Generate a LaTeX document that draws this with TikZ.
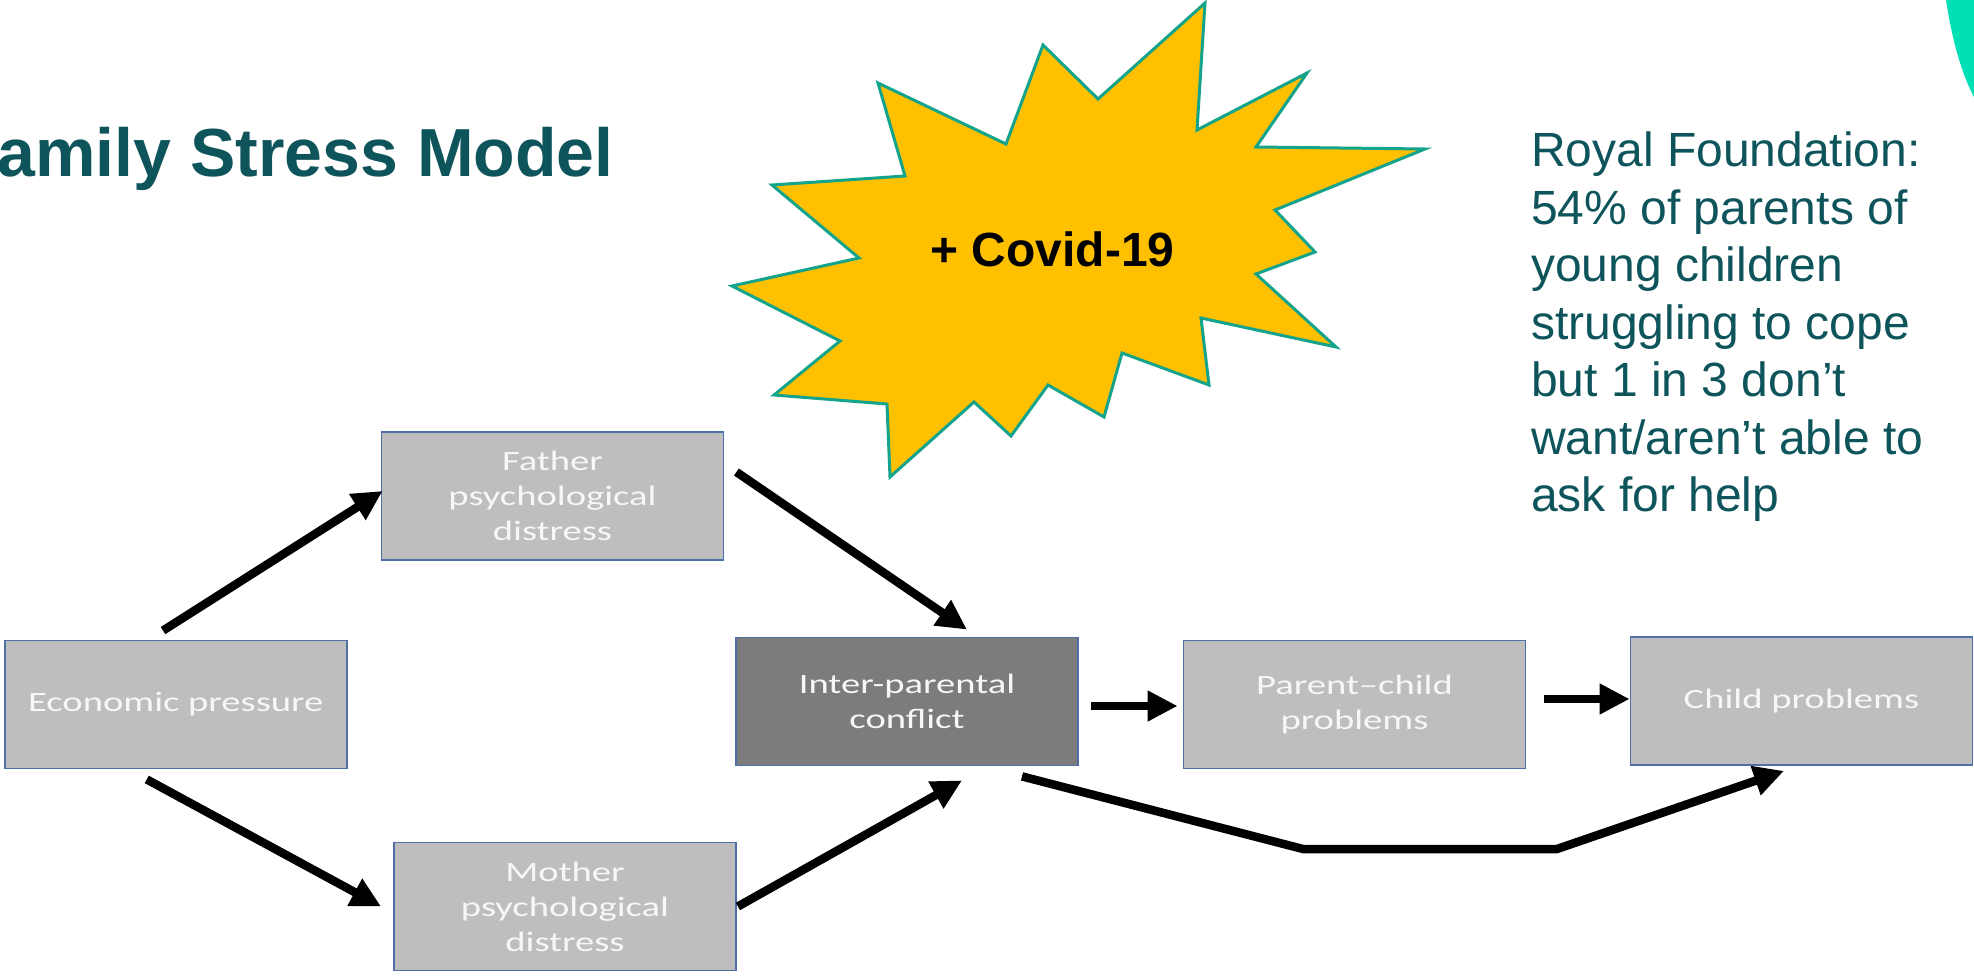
\documentclass[tikz,border=0pt]{standalone}
\usepackage{fontspec}
\setmainfont{Liberation Sans}
\newfontfamily\boxfont[FakeStretch=1.38]{Carlito}
\usetikzlibrary{arrows.meta,calc}
\definecolor{teal1}{RGB}{14,84,91}
\definecolor{gold}{RGB}{255,192,0}
\definecolor{burst}{RGB}{20,163,139}
\definecolor{boxedge}{RGB}{79,111,168}
\definecolor{lightbox}{RGB}{190,190,190}
\definecolor{darkbox}{RGB}{124,124,124}
\definecolor{aqua}{RGB}{0,224,180}
\begin{document}
\begin{tikzpicture}[x=1pt,y=-1pt,
  stepbox/.style={rectangle, draw=boxedge, line width=1.8pt, fill=lightbox,
    text=white!94!gray, inner sep=0pt, minimum width=342pt, minimum height=128pt,
    align=center, font=\boxfont\fontsize{28}{35}\selectfont},
  arr/.style={line width=8.5pt, draw=black, -{Triangle[length=30pt,width=29pt]}},
  burststyle/.style={fill=gold, draw=burst, line width=3pt, line join=miter}]
\useasboundingbox (0,0) rectangle (1974,976);
\fill[white] (0,0) rectangle (1974,976);
% corner decoration
\fill[aqua] (1946,0) .. controls (1952,40) and (1962,75) .. (1974,97) -- (1974,0) -- cycle;
% title
\node[anchor=base west, inner sep=0pt, text=teal1,
  font=\bfseries\fontsize{68}{80}\selectfont] (title) at (-2.5,177) {amily Stress Model};
% starburst
\draw[burststyle] (1205,3) -- (1197,130) -- (1307,73) -- (1256,147) -- (1425,149)
  -- (1275,210) -- (1315,252) -- (1256,274) -- (1336,347) -- (1201,318)
  -- (1209,385) -- (1122,353) -- (1104,417) -- (1048,385) -- (1011,436)
  -- (974,402) -- (890,477) -- (887,404) -- (774,395) -- (840,341)
  -- (732,286) -- (859,258) -- (772,185) -- (905,176) -- (878,83)
  -- (1006,144) -- (1043,45) -- (1098,99) -- cycle;
\node[anchor=base, inner sep=0pt, text=black,
  font=\bfseries\fontsize{48}{58}\selectfont] (covid) at (1052.5,267) {+ Covid-19};
% right text
\node[anchor=base west, inner sep=0pt, text=teal1,
  font=\fontsize{48}{57.5}\selectfont] (royal) at (1531,167)
  {\begin{tabular}[t]{@{}l@{}}Royal Foundation:\\54\% of parents of\\young children\\struggling to cope\\but 1 in 3 don’t\\want/aren’t able to\\ask for help\end{tabular}};
% boxes
\node[stepbox] (econ) at (175.75,704.5) {Economic pressure};
\node[stepbox] (father) at (552.5,496) {Father\\psychological\\distress};
\node[stepbox, fill=darkbox] (inter) at (907,701.5) {Inter-parental\\conflict};
\node[stepbox] (mother) at (565,906.5) {Mother\\psychological\\distress};
\node[stepbox] (pc) at (1354.5,704.5) {Parent–child\\problems};
\node[stepbox] (child) at (1801.5,701) {Child problems};
% connectors
\coordinate (b1) at (1303,849);
\coordinate (b2) at (1557,849);
\draw[arr] ([xshift=-12.75pt,yshift=9pt]econ.north) -- ([xshift=2pt,yshift=5pt]father.west);
\draw[arr] ([xshift=12pt,yshift=24pt]father.east) -- ([xshift=60pt,yshift=7pt]inter.north);
\draw[arr] ([xshift=-29pt,yshift=-10pt]econ.south) -- ([xshift=-12pt]mother.west);
\draw[arr] ([xshift=1pt]mother.east) -- ([xshift=55pt,yshift=-14pt]inter.south);
\draw[arr] ([xshift=12pt,yshift=-4.5pt]inter.east) -- ([xshift=-5pt,yshift=-1.5pt]pc.west);
\draw[arr] ([xshift=18pt,yshift=5.5pt]pc.east) -- ([yshift=2pt]child.west);
\draw[arr, line join=miter] ([xshift=115pt,yshift=-10pt]inter.south) -- (b1) -- (b2)
  -- ([xshift=-17.5pt,yshift=-5pt]child.south);
\end{tikzpicture}
\end{document}
